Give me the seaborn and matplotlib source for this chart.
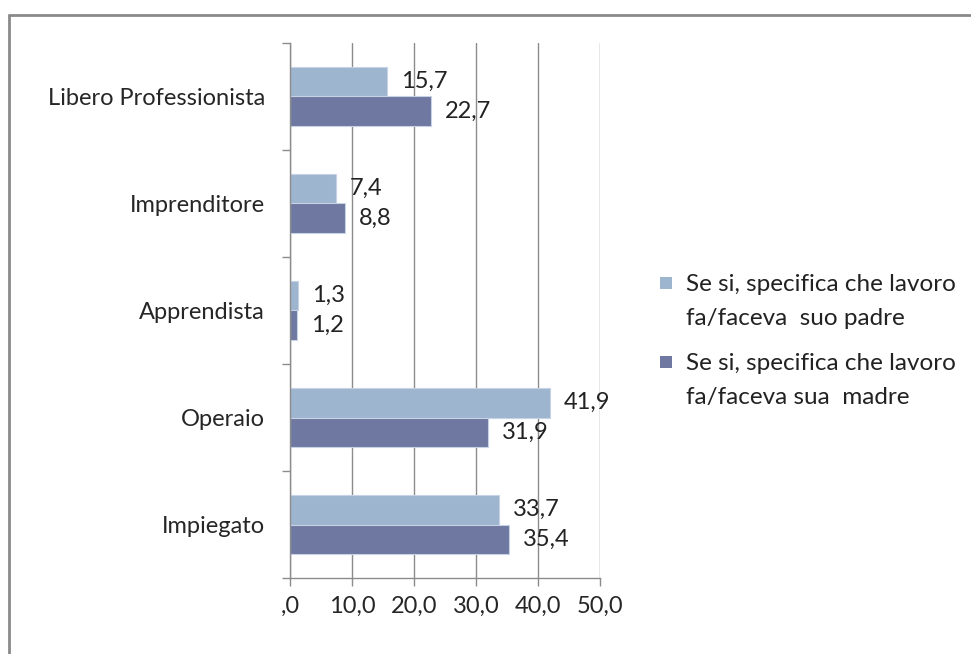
import pandas as pd
import matplotlib.pyplot as plt
import seaborn as sns
from matplotlib.lines import Line2D
from matplotlib.patches import Rectangle

categories = ['Libero Professionista', 'Imprenditore', 'Apprendista', 'Operaio', 'Impiegato']
padre = [15.7, 7.4, 1.3, 41.9, 33.7]
madre = [22.7, 8.8, 1.2, 31.9, 35.4]
series = ['Se si, specifica che lavoro\nfa/faceva  suo padre',
          'Se si, specifica che lavoro\nfa/faceva sua  madre']
x_ticks = [0, 10, 20, 30, 40, 50]
x_labels = [',0', '10,0', '20,0', '30,0', '40,0', '50,0']

df = pd.DataFrame({
    'categoria': categories * 2,
    'valore': padre + madre,
    'serie': [series[0]] * len(categories) + [series[1]] * len(categories),
})

sns.set_style('white')
plt.rcParams['font.family'] = ['Lato', 'DejaVu Sans']

colors = ['#9db5ce', '#6e78a0']
W, H = 971, 654
fig = plt.figure(figsize=(9.71, 6.54), dpi=100)
ax = fig.add_axes([290 / W, 1 - 578 / H, 310 / W, 535 / H])

sns.barplot(data=df, y='categoria', x='valore', hue='serie', order=categories,
            hue_order=series, palette=colors, saturation=1, orient='h', width=0.56,
            edgecolor='#c8d2e6', linewidth=0.8, ax=ax, legend=False)

for cont in ax.containers:
    labels = [f'{v:.1f}'.replace('.', ',') for v in cont.datavalues]
    ax.bar_label(cont, labels=labels, padding=10, fontsize=17, color='#222222')

ax.set_xlim(0, 50)
ax.set_ylim(4.5, -0.5)
ax.set_xticks(x_ticks)
ax.set_xticklabels(x_labels, fontsize=17)
ax.set_xlabel('')
ax.set_ylabel('')
ax.grid(axis='x', color='#8c8c8c', linewidth=1)
ax.set_axisbelow(True)
ax.tick_params(axis='x', direction='out', length=6, width=1, color='#8c8c8c', pad=7,
               bottom=True)
ax.set_yticks(range(len(categories)))
ax.set_yticklabels(categories, fontsize=17)
ax.set_yticks([i - 0.5 for i in range(len(categories) + 1)], minor=True)
ax.tick_params(axis='y', which='major', length=0, pad=18, left=True)
ax.tick_params(axis='y', which='minor', direction='out', length=6, width=1,
               color='#8c8c8c', left=True)
for s in ['top', 'right']:
    ax.spines[s].set_visible(False)
for s in ['left', 'bottom']:
    ax.spines[s].set_color('#8c8c8c')
    ax.spines[s].set_linewidth(1)

# legend drawn by hand: square beside the first line of each two-line label
for label, color, y_first in zip(series, colors, [283, 362]):
    fig.add_artist(Rectangle((660 / W, 1 - (y_first + 6) / H), 12 / W, 12 / H,
                             transform=fig.transFigure, facecolor=color, edgecolor='none'))
    fig.text(686 / W, 1 - (y_first + 18.5) / H, label, fontsize=17.5, va='center',
             ha='left', linespacing=1.72, color='#222222')

fig.add_artist(Line2D([9 / W, 1], [1 - 15 / H] * 2, color='#8a8a8a', lw=2))
fig.add_artist(Line2D([9 / W] * 2, [0, 1 - 15 / H], color='#8a8a8a', lw=2))

fig.savefig('out.png', dpi=100)
